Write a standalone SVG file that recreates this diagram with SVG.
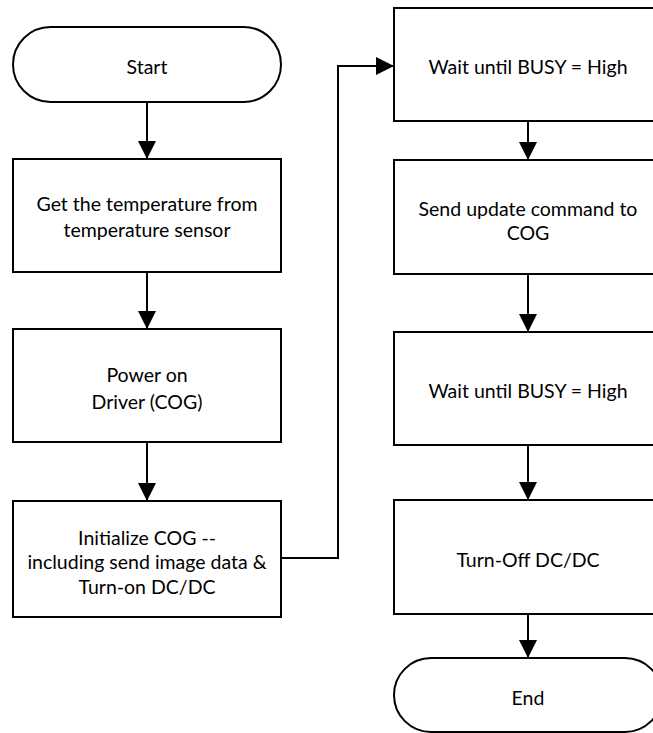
<svg xmlns="http://www.w3.org/2000/svg" width="653" height="733" viewBox="0 0 653 733">
<defs>
<style>
.n{fill:#fff;stroke:#000;stroke-width:2}
.t{font-family:Lato,"Liberation Sans",sans-serif;font-size:19.5px;fill:#000;text-anchor:middle;dominant-baseline:central}
.c{fill:none;stroke:#000;stroke-width:2}
</style>
<marker id="ah" markerWidth="18" markerHeight="18" refX="18" refY="9" orient="auto" markerUnits="userSpaceOnUse">
<path d="M0,0 L18,9 L0,18 Z" fill="#000"/>
</marker>
</defs>
<rect width="653" height="733" fill="#fff"/>
<g id="connectors">
<line class="c" x1="147" y1="102" x2="147" y2="159" marker-end="url(#ah)"/>
<line class="c" x1="147" y1="272" x2="147" y2="329" marker-end="url(#ah)"/>
<line class="c" x1="147" y1="442" x2="147" y2="501" marker-end="url(#ah)"/>
<polyline class="c" points="281,558 338,558 338,66 394,66" marker-end="url(#ah)"/>
<line class="c" x1="528" y1="121" x2="528" y2="160" marker-end="url(#ah)"/>
<line class="c" x1="528" y1="274" x2="528" y2="332" marker-end="url(#ah)"/>
<line class="c" x1="528" y1="445" x2="528" y2="500" marker-end="url(#ah)"/>
<line class="c" x1="528" y1="614" x2="528" y2="658" marker-end="url(#ah)"/>
</g>
<g id="start">
<rect class="n" x="13" y="27" width="268" height="75" rx="37.5"/>
<text class="t" x="147" y="66">Start</text>
</g>
<g id="get-temp">
<rect class="n" x="13" y="159" width="268" height="113"/>
<text class="t" x="147" y="203">Get the temperature from</text>
<text class="t" x="147" y="229">temperature sensor</text>
</g>
<g id="power-on">
<rect class="n" x="13" y="329" width="268" height="113"/>
<text class="t" x="147" y="374">Power on</text>
<text class="t" x="147" y="401">Driver (COG)</text>
</g>
<g id="init-cog">
<rect class="n" x="13" y="501" width="268" height="116"/>
<text class="t" x="147" y="537">Initialize COG --</text>
<text class="t" x="147" y="561">including send image data &amp;</text>
<text class="t" x="147" y="586">Turn-on DC/DC</text>
</g>
<g id="wait-busy-1">
<rect class="n" x="394" y="8" width="268" height="113"/>
<text class="t" x="528" y="66">Wait until BUSY = High</text>
</g>
<g id="send-update">
<rect class="n" x="394" y="160" width="268" height="114"/>
<text class="t" x="528" y="208">Send update command to</text>
<text class="t" x="528" y="232">COG</text>
</g>
<g id="wait-busy-2">
<rect class="n" x="394" y="332" width="268" height="113"/>
<text class="t" x="528" y="390">Wait until BUSY = High</text>
</g>
<g id="turn-off">
<rect class="n" x="394" y="500" width="268" height="114"/>
<text class="t" x="528" y="559">Turn-Off DC/DC</text>
</g>
<g id="end">
<rect class="n" x="394" y="658" width="268" height="74" rx="37"/>
<text class="t" x="528" y="697">End</text>
</g>
</svg>
